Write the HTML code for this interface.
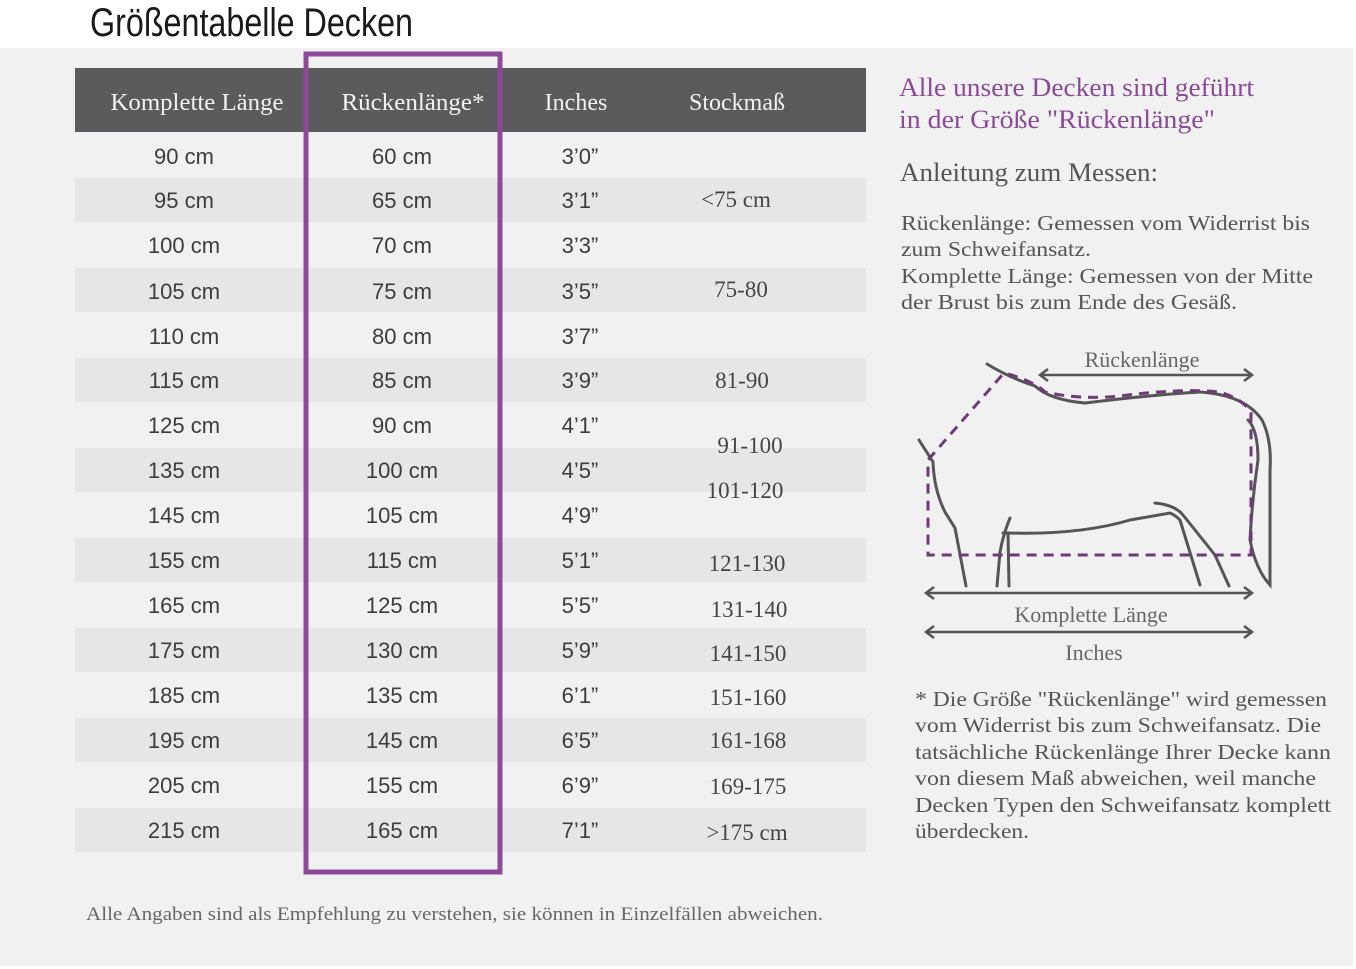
<!DOCTYPE html>
<html><head><meta charset="utf-8"><style>
html,body{margin:0;padding:0;background:#fff;}
svg{display:block}
.c{font-family:"Liberation Sans",sans-serif;font-size:22px;fill:#3c3c3c;text-anchor:middle}
.s{font-family:"Liberation Serif",serif;fill:#555}
.h{font-family:"Liberation Serif",serif;font-size:24px;fill:#f2f2f2;text-anchor:middle}
</style></head><body>
<svg width="1356" height="969" viewBox="0 0 1356 969" xmlns="http://www.w3.org/2000/svg">
<rect x="0" y="48" width="1353" height="918" fill="#f1f1f1"/>
<text x="90" y="36" font-family="Liberation Sans,sans-serif" font-size="40" fill="#1a1a1a" textLength="323" lengthAdjust="spacingAndGlyphs">Größentabelle Decken</text>
<rect x="75" y="68" width="791" height="64" fill="#5b5b5e"/>
<text class="h" x="197" y="110" textLength="173" lengthAdjust="spacingAndGlyphs">Komplette Länge</text>
<text class="h" x="413" y="110" textLength="143" lengthAdjust="spacingAndGlyphs">Rückenlänge*</text>
<text class="h" x="576" y="110">Inches</text>
<text class="h" x="737" y="110">Stockmaß</text>
<g fill="#e6e6e6">
<rect x="75" y="178" width="791" height="44"/>
<rect x="75" y="268" width="791" height="44"/>
<rect x="75" y="358" width="791" height="44"/>
<rect x="75" y="448" width="791" height="44"/>
<rect x="75" y="538" width="791" height="44"/>
<rect x="75" y="628" width="791" height="44"/>
<rect x="75" y="718" width="791" height="44"/>
<rect x="75" y="808" width="791" height="44"/>
</g>
<g class="c">
<text x="184" y="164">90 cm</text><text x="402" y="164">60 cm</text><text x="580" y="164">3’0”</text>
<text x="184" y="208">95 cm</text><text x="402" y="208">65 cm</text><text x="580" y="208">3’1”</text>
<text x="184" y="253">100 cm</text><text x="402" y="253">70 cm</text><text x="580" y="253">3’3”</text>
<text x="184" y="299">105 cm</text><text x="402" y="299">75 cm</text><text x="580" y="299">3’5”</text>
<text x="184" y="344">110 cm</text><text x="402" y="344">80 cm</text><text x="580" y="344">3’7”</text>
<text x="184" y="388">115 cm</text><text x="402" y="388">85 cm</text><text x="580" y="388">3’9”</text>
<text x="184" y="433">125 cm</text><text x="402" y="433">90 cm</text><text x="580" y="433">4’1”</text>
<text x="184" y="478">135 cm</text><text x="402" y="478">100 cm</text><text x="580" y="478">4’5”</text>
<text x="184" y="523">145 cm</text><text x="402" y="523">105 cm</text><text x="580" y="523">4’9”</text>
<text x="184" y="568">155 cm</text><text x="402" y="568">115 cm</text><text x="580" y="568">5’1”</text>
<text x="184" y="613">165 cm</text><text x="402" y="613">125 cm</text><text x="580" y="613">5’5”</text>
<text x="184" y="658">175 cm</text><text x="402" y="658">130 cm</text><text x="580" y="658">5’9”</text>
<text x="184" y="703">185 cm</text><text x="402" y="703">135 cm</text><text x="580" y="703">6’1”</text>
<text x="184" y="748">195 cm</text><text x="402" y="748">145 cm</text><text x="580" y="748">6’5”</text>
<text x="184" y="793">205 cm</text><text x="402" y="793">155 cm</text><text x="580" y="793">6’9”</text>
<text x="184" y="838">215 cm</text><text x="402" y="838">165 cm</text><text x="580" y="838">7’1”</text>
</g>
<g font-family="Liberation Serif,serif" font-size="23" text-anchor="middle" fill="#444">
<text x="736" y="207">&lt;75 cm</text>
<text x="741" y="297">75-80</text>
<text x="742" y="388">81-90</text>
<text x="750" y="453">91-100</text>
<text x="745" y="498">101-120</text>
<text x="747" y="571">121-130</text>
<text x="749" y="617">131-140</text>
<text x="748" y="661">141-150</text>
<text x="748" y="705">151-160</text>
<text x="748" y="748">161-168</text>
<text x="748" y="794">169-175</text>
<text x="747" y="840">&gt;175 cm</text>
</g>
<rect x="306" y="54" width="194" height="818" fill="none" stroke="#8c4a98" stroke-width="5"/>
<text x="86" y="920" font-family="Liberation Serif,serif" font-size="19" fill="#666" textLength="737" lengthAdjust="spacingAndGlyphs">Alle Angaben sind als Empfehlung zu verstehen, sie können in Einzelfällen abweichen.</text>
<g font-family="Liberation Serif,serif" font-size="26" fill="#8a4a96" lengthAdjust="spacingAndGlyphs">
<text x="899" y="96" textLength="355" lengthAdjust="spacingAndGlyphs">Alle unsere Decken sind geführt</text>
<text x="899" y="128" textLength="316" lengthAdjust="spacingAndGlyphs">in der Größe "Rückenlänge"</text>
</g>
<text x="900" y="181" font-family="Liberation Serif,serif" font-size="26" fill="#555" textLength="258" lengthAdjust="spacingAndGlyphs">Anleitung zum Messen:</text>
<g font-family="Liberation Serif,serif" font-size="21" fill="#555">
<text x="901" y="230" textLength="409" lengthAdjust="spacingAndGlyphs">Rückenlänge: Gemessen vom Widerrist bis</text>
<text x="901" y="256" textLength="190" lengthAdjust="spacingAndGlyphs">zum Schweifansatz.</text>
<text x="901" y="283" textLength="412" lengthAdjust="spacingAndGlyphs">Komplette Länge: Gemessen von der Mitte</text>
<text x="901" y="309" textLength="336" lengthAdjust="spacingAndGlyphs">der Brust bis zum Ende des Gesäß.</text>
</g>
<g font-family="Liberation Serif,serif" font-size="21" fill="#555">
<text x="915" y="706" textLength="412" lengthAdjust="spacingAndGlyphs">* Die Größe "Rückenlänge" wird gemessen</text>
<text x="915" y="732" textLength="406" lengthAdjust="spacingAndGlyphs">vom Widerrist bis zum Schweifansatz. Die</text>
<text x="915" y="759" textLength="416" lengthAdjust="spacingAndGlyphs">tatsächliche Rückenlänge Ihrer Decke kann</text>
<text x="915" y="785" textLength="401" lengthAdjust="spacingAndGlyphs">von diesem Maß abweichen, weil manche</text>
<text x="915" y="812" textLength="416" lengthAdjust="spacingAndGlyphs">Decken Typen den Schweifansatz komplett</text>
<text x="915" y="838" textLength="114" lengthAdjust="spacingAndGlyphs">überdecken.</text>
</g>
<!-- horse -->
<g fill="none" stroke="#555" stroke-width="3" stroke-linecap="round">
<path d="M987 364 Q1010 378 1035 386 Q1050 400 1085 403 Q1150 395 1200 392 Q1245 395 1262 420 Q1272 440 1270 470 L1270 585 Q1256 570 1250 540 Q1252 500 1258 460 Q1258 430 1248 420"/>
<path d="M919 440 L933 462 Q934 490 945 512 L955 528 L966 586"/>
<path d="M1010 518 Q1003 535 1000 552 L997 586"/>
<path d="M1003 533 L1008 533 L1009 586"/>
<path d="M1008 533 Q1080 535 1130 520 L1170 513 Q1175 515 1180 520 L1200 585"/>
<path d="M1155 503 Q1175 505 1183 515 L1215 555 L1229 586"/>
</g>
<g fill="none" stroke="#6e3a78" stroke-width="3" stroke-dasharray="10 7">
<path d="M1008 374 Q1035 382 1045 392 Q1080 400 1120 396 Q1180 388 1220 392 Q1245 400 1251 413 L1251 555 L928 555 L928 460 L1003 374"/>
</g>
<g fill="none" stroke="#555" stroke-width="2.5">
<path d="M1040 375 L1252 375 M1048 369 L1040 375 L1048 381 M1244 369 L1252 375 L1244 381"/>
<path d="M926 593 L1252 593 M934 587 L926 593 L934 599 M1244 587 L1252 593 L1244 599"/>
<path d="M926 632 L1252 632 M934 626 L926 632 L934 638 M1244 626 L1252 632 L1244 638"/>
</g>
<g font-family="Liberation Serif,serif" font-size="22" fill="#666" text-anchor="middle">
<text x="1142" y="367">Rückenlänge</text>
<text x="1091" y="622">Komplette Länge</text>
<text x="1094" y="660">Inches</text>
</g>
</svg>
</body></html>
